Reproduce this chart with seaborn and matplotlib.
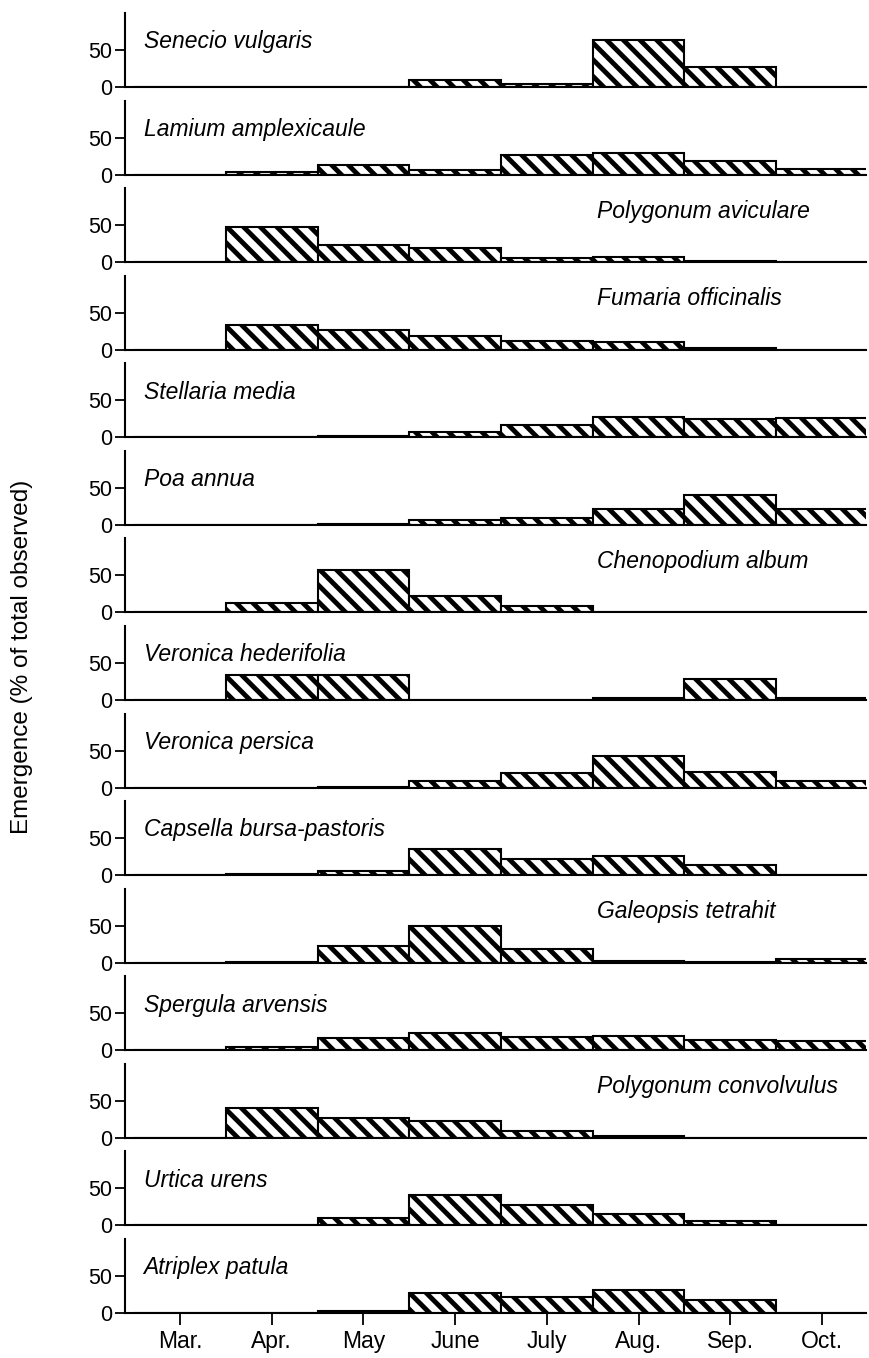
import numpy as np
import pandas as pd
import matplotlib
matplotlib.use('Agg')
import matplotlib.pyplot as plt
import seaborn as sns

# months on the x axis
months = ['Mar.', 'Apr.', 'May', 'June', 'July', 'Aug.', 'Sep.', 'Oct.']

# emergence (% of total observed), Mar. .. Oct.
senecio = [0, 0, 0, 9, 4, 64, 27, 0]
lamium = [0, 3, 13, 6, 26, 29, 19, 8]
polygonum_av = [0, 47, 23, 19, 6, 7, 1, 0]
fumaria = [0, 34, 27, 19, 12, 10, 2, 0]
stellaria = [0, 0, 2, 7, 16, 27, 25, 26]
poa = [0, 0, 1, 6, 9, 22, 41, 22]
chenopodium = [0, 13, 58, 22, 9, 0, 0, 0]
veronica_hed = [0, 34, 34, 0, 0, 3, 29, 3]
veronica_per = [0, 0, 1, 9, 20, 42, 21, 9]
capsella = [0, 1, 5, 35, 22, 26, 14, 0]
galeopsis = [0, 1, 22, 50, 18, 2, 1, 5]
spergula = [0, 4, 17, 23, 18, 19, 14, 12]
polygonum_con = [0, 40, 27, 23, 9, 3, 0, 0]
urtica = [0, 1, 10, 41, 27, 15, 6, 0]
atriplex = [0, 0, 3, 27, 22, 31, 17, 0]

species = ['Senecio vulgaris', 'Lamium amplexicaule', 'Polygonum aviculare',
           'Fumaria officinalis', 'Stellaria media', 'Poa annua',
           'Chenopodium album', 'Veronica hederifolia', 'Veronica persica',
           'Capsella bursa-pastoris', 'Galeopsis tetrahit', 'Spergula arvensis',
           'Polygonum convolvulus', 'Urtica urens', 'Atriplex patula']
values = [senecio, lamium, polygonum_av, fumaria, stellaria, poa, chenopodium,
          veronica_hed, veronica_per, capsella, galeopsis, spergula,
          polygonum_con, urtica, atriplex]

# species whose name sits on the right of the panel
right_side = ['Polygonum aviculare', 'Fumaria officinalis', 'Chenopodium album',
              'Galeopsis tetrahit', 'Polygonum convolvulus']

sns.set_style('ticks')
plt.rcParams['font.family'] = ['Liberation Sans', 'DejaVu Sans']
plt.rcParams['hatch.linewidth'] = 3.5
plt.rcParams['axes.linewidth'] = 1.5
for k in ['text.color', 'axes.labelcolor', 'xtick.color', 'ytick.color',
          'axes.edgecolor']:
    plt.rcParams[k] = 'black'

W, H = 870, 1358
fig, axes = plt.subplots(15, 1, figsize=(W / 100, H / 100), dpi=100,
                         gridspec_kw=dict(left=125 / W, right=866 / W,
                                          top=1 - 13 / H, bottom=1 - 1313 / H,
                                          hspace=0.183))

for i, (ax, name, vals) in enumerate(zip(axes, species, values)):
    df = pd.DataFrame({'month': months, 'pct': vals})
    sns.barplot(data=df, x='month', y='pct', order=months, ax=ax, width=1,
                color='white', edgecolor='black', linewidth=1.5, hatch='\\\\',
                saturation=1)
    ax.set_xlim(-0.6, 7.48)
    ax.set_ylim(0, 100)
    ax.set_yticks([0, 50])
    ax.set_ylabel('')
    ax.set_xlabel('')
    sns.despine(ax=ax)
    ax.tick_params(axis='y', labelsize=15.5, length=7, width=1.3, pad=2)
    if i < len(species) - 1:
        ax.tick_params(axis='x', bottom=False, labelbottom=False)
    else:
        ax.tick_params(axis='x', labelsize=16.5, length=8.5, width=1.3, pad=4)
    if name in right_side:
        ax.text(0.637, 0.69, name, transform=ax.transAxes, fontsize=16.5,
                style='italic', ha='left', va='center')
    else:
        ax.text(0.025, 0.61, name, transform=ax.transAxes, fontsize=16.5,
                style='italic', ha='left', va='center')

fig.text(22 / W, 1 - 657 / H, 'Emergence (% of total observed)', rotation=90,
         ha='center', va='center', fontsize=17.5)

fig.savefig('out.png', dpi=100)
